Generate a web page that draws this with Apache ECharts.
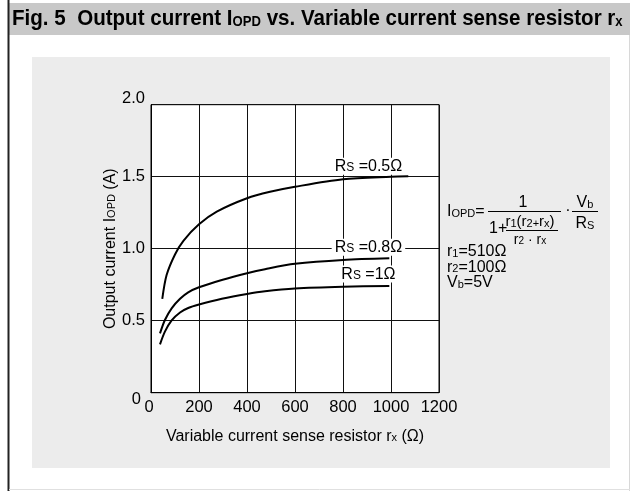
<!DOCTYPE html>
<html>
<head>
<meta charset="utf-8">
<script src="https://cdn.jsdelivr.net/npm/echarts@6/dist/echarts.min.js"></script>
<style>
  html, body { margin: 0; padding: 0; background: #fff; }
  #chart { width: 631px; height: 491px; }
</style>
</head>
<body>
<div id="chart"></div>
<script>
// Axis ticks
const xTicks = [0, 200, 400, 600, 800, 1000, 1200];
const yTicks = [0, 0.5, 1.0, 1.5, 2.0];

// Rs = 0.5 ohm
const rx05 = [47, 65, 100, 135, 200, 274, 400, 496, 600, 800, 1000, 1072];
const iopd05 = [0.651, 0.817, 0.96, 1.055, 1.169, 1.257, 1.35, 1.395, 1.43, 1.482, 1.5, 1.503];

// Rs = 0.8 ohm
const rx08 = [37.5, 58, 86, 121, 155, 200, 295, 400, 475, 600, 800, 993];
const iopd08 = [0.412, 0.505, 0.586, 0.652, 0.697, 0.732, 0.783, 0.83, 0.858, 0.895, 0.922, 0.933];

// Rs = 1 ohm
const rx1 = [37.5, 58, 86, 121, 155, 200, 295, 400, 475, 600, 800, 993];
const iopd1 = [0.336, 0.424, 0.502, 0.557, 0.588, 0.612, 0.652, 0.686, 0.705, 0.724, 0.736, 0.741];

// Curve label anchors [rx, I]
const labelRs05 = [906, 1.572];
const labelRs08 = [906, 1.01];
const labelRs1 = [906, 0.825];

const FONT = '"Liberation Sans", Arial, sans-serif';
const pair = (xs, ys) => xs.map((x, i) => [x, ys[i]]);

const rsRich = {
  n: { fontFamily: FONT, fontSize: 16, color: '#000' },
  s: { fontFamily: FONT, fontSize: 12, color: '#000', padding: [2, 0, 0, 0] }
};

function curve(name, data, labelAt, labelText) {
  return {
    name: name,
    type: 'line',
    data: data,
    smooth: 0.3,
    symbol: 'none',
    lineStyle: { color: '#000', width: 2 },
    z: 3,
    markPoint: {
      symbol: 'rect',
      symbolSize: 0,
      silent: true,
      data: [{ coord: labelAt }],
      label: {
        show: true,
        position: 'inside',
        formatter: labelText,
        backgroundColor: '#fff',
        padding: [1, 3, 0, 3],
        rich: rsRich
      }
    }
  };
}

const chart = echarts.init(document.getElementById('chart'), null, { renderer: 'canvas' });

const subRich = (size) => ({
  a: { fontFamily: FONT, fontSize: size, color: '#000' },
  s: { fontFamily: FONT, fontSize: Math.round(size * 0.7), color: '#000', padding: [3, 0, 0, 0] }
});

const TITLE_FONT = '"Liberation Sans", Arial, sans-serif';

chart.setOption({
  animation: false,
  backgroundColor: '#fff',
  graphic: [
    // title band
    { type: 'rect', shape: { x: 8, y: 3, width: 622, height: 32 }, style: { fill: '#c8c8c8' }, z: -10 },
    // light panel
    { type: 'rect', shape: { x: 32, y: 57, width: 578, height: 411 }, style: { fill: '#ececec' }, z: -10 },
    // frame lines
    { type: 'line', shape: { x1: 8.5, y1: 0, x2: 8.5, y2: 491 }, style: { stroke: '#222', lineWidth: 2 }, z: -5 },
    { type: 'line', shape: { x1: 629.5, y1: 35, x2: 629.5, y2: 491 }, style: { stroke: '#d8d8d8', lineWidth: 1 }, z: -5 },
    { type: 'line', shape: { x1: 9, y1: 489.5, x2: 630, y2: 489.5 }, style: { stroke: '#e0e0e0', lineWidth: 1 }, z: -5 },
    // title (condensed bold)
    {
      type: 'text', x: 12, y: 19, scaleX: 0.935, z: 10,
      style: {
        text: '{a|Fig. 5  Output current I}{s|OPD}{a| vs. Variable current sense resistor r}{s|x}',
        verticalAlign: 'middle',
        rich: {
          a: { fontFamily: TITLE_FONT, fontWeight: 'bold', fontSize: 22, color: '#000' },
          s: { fontFamily: TITLE_FONT, fontWeight: 'bold', fontSize: 14, color: '#000', padding: [6, 0, 0, 0] }
        }
      }
    },
    // formula
    { type: 'text', x: 447, y: 212, z: 10, style: { text: '{a|I}{s|OPD}{a|=}', rich: subRich(16), verticalAlign: 'middle' } },
    { type: 'line', shape: { x1: 488, y1: 211.5, x2: 561, y2: 211.5 }, style: { stroke: '#000', lineWidth: 1 }, z: 10 },
    { type: 'text', x: 523, y: 203, z: 10, style: { text: '1', font: '16px ' + FONT, fill: '#000', align: 'center', verticalAlign: 'middle' } },
    { type: 'text', x: 489, y: 229, z: 10, style: { text: '1+', font: '16px ' + FONT, fill: '#000', verticalAlign: 'middle' } },
    { type: 'text', x: 530, y: 222, z: 10, style: { text: '{a|r}{s|1}{a|(r}{s|2+}{a|r}{s|x}{a|)}', rich: subRich(15), align: 'center', verticalAlign: 'middle' } },
    { type: 'line', shape: { x1: 506, y1: 230.5, x2: 558, y2: 230.5 }, style: { stroke: '#000', lineWidth: 1 }, z: 10 },
    { type: 'text', x: 530, y: 240, z: 10, style: { text: '{a|r}{s|2}{a| · r}{s|x}', rich: subRich(14), align: 'center', verticalAlign: 'middle' } },
    { type: 'text', x: 568, y: 211, z: 10, style: { text: '·', font: '16px ' + FONT, fill: '#000', align: 'center', verticalAlign: 'middle' } },
    { type: 'line', shape: { x1: 572, y1: 211.5, x2: 598, y2: 211.5 }, style: { stroke: '#000', lineWidth: 1 }, z: 10 },
    { type: 'text', x: 585, y: 203, z: 10, style: { text: '{a|V}{s|b}', rich: subRich(16), align: 'center', verticalAlign: 'middle' } },
    { type: 'text', x: 585, y: 224, z: 10, style: { text: '{a|R}{s|S}', rich: subRich(16), align: 'center', verticalAlign: 'middle' } },
    { type: 'text', x: 447, y: 252, z: 10, style: { text: '{a|r}{s|1}{a|=510Ω}', rich: subRich(16), verticalAlign: 'middle' } },
    { type: 'text', x: 447, y: 267.5, z: 10, style: { text: '{a|r}{s|2}{a|=100Ω}', rich: subRich(16), verticalAlign: 'middle' } },
    { type: 'text', x: 447, y: 283, z: 10, style: { text: '{a|V}{s|b}{a|=5V}', rich: subRich(16), verticalAlign: 'middle' } }
  ],
  grid: {
    left: 151, top: 104.7, right: 192, bottom: 98.3,
    show: true, backgroundColor: '#fff', borderColor: '#000', borderWidth: 1
  },
  xAxis: {
    type: 'value', min: xTicks[0], max: xTicks[xTicks.length - 1], interval: 200,
    axisLine: { show: true, lineStyle: { color: '#000', width: 1 } },
    axisTick: { show: false },
    splitLine: { show: true, lineStyle: { color: '#111', width: 1 } },
    axisLabel: {
      margin: 6,
      formatter: v => (v === 0 ? '{z|0}' : '{a|' + v + '}'),
      rich: {
        a: { fontFamily: FONT, fontSize: 16.5, color: '#000' },
        z: { fontFamily: FONT, fontSize: 16.5, color: '#000', padding: [0, 4, 0, 0] }
      }
    },
    name: '{a|Variable current sense resistor r}{s|x}{a| (Ω)}',
    nameLocation: 'middle', nameGap: 36,
    nameTextStyle: { rich: subRich(16) }
  },
  yAxis: {
    type: 'value', min: yTicks[0], max: yTicks[yTicks.length - 1], interval: 0.5,
    axisLine: { show: true, lineStyle: { color: '#000', width: 1 } },
    axisTick: { show: false },
    splitLine: { show: true, lineStyle: { color: '#111', width: 1 } },
    axisLabel: {
      margin: 6,
      formatter: v => (v === 0 ? '{z|0}' : v === 2 ? '{t|2.0}' : '{a|' + v.toFixed(1) + '}'),
      rich: {
        a: { fontFamily: FONT, fontSize: 16.5, color: '#000' },
        z: { fontFamily: FONT, fontSize: 16.5, color: '#000', padding: [14, 4, 0, 0] },
        t: { fontFamily: FONT, fontSize: 16.5, color: '#000', padding: [0, 0, 12, 0] }
      }
    },
    name: '{a|Output current I}{s|OPD}{a| (A)}',
    nameLocation: 'middle', nameGap: 23, nameRotate: 90,
    nameTextStyle: { rich: subRich(16) }
  },
  series: [
    curve('Rs=0.5', pair(rx05, iopd05), labelRs05, '{n|R}{s|S}{n| =0.5Ω}'),
    curve('Rs=0.8', pair(rx08, iopd08), labelRs08, '{n|R}{s|S}{n| =0.8Ω}'),
    curve('Rs=1', pair(rx1, iopd1), labelRs1, '{n|R}{s|S}{n| =1Ω}')
  ]
});
</script>
</body>
</html>
